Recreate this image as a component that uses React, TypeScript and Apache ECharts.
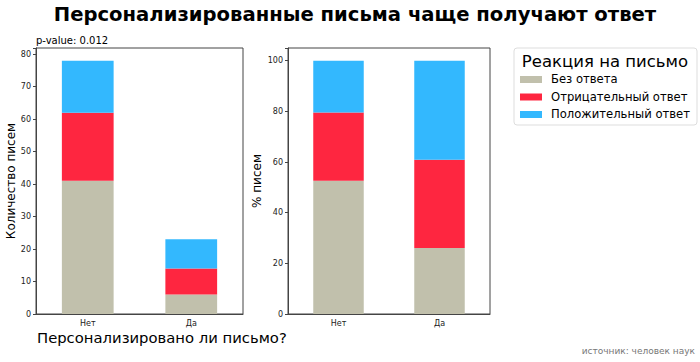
import React, { useEffect, useRef } from "react";
import * as echarts from "echarts";

const categories = ["Нет", "Да"];
const seriesNames = ["Без ответа", "Отрицательный ответ", "Положительный ответ"];
const countNoReply = [41, 6];
const countNegative = [21, 8];
const countPositive = [16, 9];
const pctNoReply = [52.6, 26.1];
const pctNegative = [26.9, 34.8];
const pctPositive = [20.5, 39.1];
const colors = ["#c1c0ac", "#fe2640", "#33b8fe"];

const FONT = "DejaVu Sans";

export default function App() {
  const ref = useRef<HTMLDivElement>(null);
  useEffect(() => {
    const chart = echarts.init(ref.current!, null, { renderer: "svg" });
    const axisText = { fontFamily: FONT, fontSize: 8, color: "#222" };
    const xAxisBase = (gi: number) => ({
      type: "category",
      gridIndex: gi,
      data: categories,
      axisLine: { lineStyle: { color: "#444" } },
      axisTick: { alignWithLabel: true, lineStyle: { color: "#444" }, length: 3 },
      axisLabel: { ...axisText, margin: 5 },
    });
    const yAxisBase = (gi: number, max: number, interval: number, name: string, gap: number) => ({
      type: "value",
      gridIndex: gi,
      min: 0,
      max,
      interval,
      name,
      nameLocation: "middle",
      nameGap: gap,
      nameTextStyle: { fontFamily: FONT, fontSize: 12, color: "#000" },
      axisLine: { show: true, lineStyle: { color: "#444" } },
      axisTick: { show: true, lineStyle: { color: "#444" }, length: 3 },
      axisLabel: {
        ...axisText,
        margin: 5,
        formatter: (v: number) => (v % interval === 0 && v <= max - 1 ? String(v) : ""),
      },
      splitLine: { show: false },
    });
    const mk = (name: string, data: number[], gi: number, color: string, stack: string) => ({
      type: "bar",
      name,
      data,
      xAxisIndex: gi,
      yAxisIndex: gi,
      stack,
      barWidth: "50%",
      itemStyle: { color },
    });
    chart.setOption({
      animation: false,
      title: {
        text: "Персонализированные письма чаще получают ответ",
        left: 350,
        textAlign: "center",
        top: -1,
        textStyle: { fontFamily: FONT, fontSize: 19.6, fontWeight: "bold", color: "#000" },
      },
      grid: [
        { left: 36, width: 207, top: 48, bottom: 48, show: true, borderColor: "#444", borderWidth: 1, containLabel: false },
        { left: 288, width: 202, top: 48, bottom: 48, show: true, borderColor: "#444", borderWidth: 1, containLabel: false },
      ],
      xAxis: [xAxisBase(0), xAxisBase(1)],
      yAxis: [
        yAxisBase(0, 81.9, 10, "Количество писем", 19),
        yAxisBase(1, 105, 20, "% писем", 25),
      ],
      legend: {
        show: false,
      },
      series: [
        mk(seriesNames[0], countNoReply, 0, colors[0], "a"),
        mk(seriesNames[1], countNegative, 0, colors[1], "a"),
        mk(seriesNames[2], countPositive, 0, colors[2], "a"),
        mk(seriesNames[0], pctNoReply, 1, colors[0], "b"),
        mk(seriesNames[1], pctNegative, 1, colors[1], "b"),
        mk(seriesNames[2], pctPositive, 1, colors[2], "b"),
      ],
      graphic: [
        {
          type: "text",
          left: 36,
          top: 35,
          style: { text: "p-value: 0.012", fontFamily: FONT, fontSize: 10, fill: "#000" },
        },
        {
          type: "text",
          left: 37,
          top: 330,
          style: { text: "Персонализировано ли письмо?", fontFamily: FONT, fontSize: 14.8, fill: "#000" },
        },
        {
          type: "text",
          right: 5,
          top: 346,
          style: { text: "источник: человек наук", fontFamily: FONT, fontSize: 9, fill: "#777" },
        },
        {
          type: "rect",
          shape: { x: 514, y: 48, width: 183, height: 77, r: 3 },
          style: { fill: "#fff", stroke: "#ddd", lineWidth: 1 },
        },
        {
          type: "text",
          x: 605,
          y: 53,
          style: { text: "Реакция на письмо", fontFamily: FONT, fontSize: 16.5, fill: "#000", align: "center" },
        },
        ...seriesNames.flatMap((n, i) => [
          {
            type: "rect",
            shape: { x: 520, y: 76 + i * 17.5, width: 22, height: 7 },
            style: { fill: colors[i] },
          },
          {
            type: "text",
            x: 551,
            y: 73 + i * 17.5,
            style: { text: n, fontFamily: FONT, fontSize: 11.6, fill: "#000" },
          },
        ]),
      ],
    });
    return () => chart.dispose();
  }, []);
  return (
    <div
      ref={ref}
      style={{ position: "fixed", left: 0, top: 0, width: 700, height: 362, background: "#fff" }}
    />
  );
}
